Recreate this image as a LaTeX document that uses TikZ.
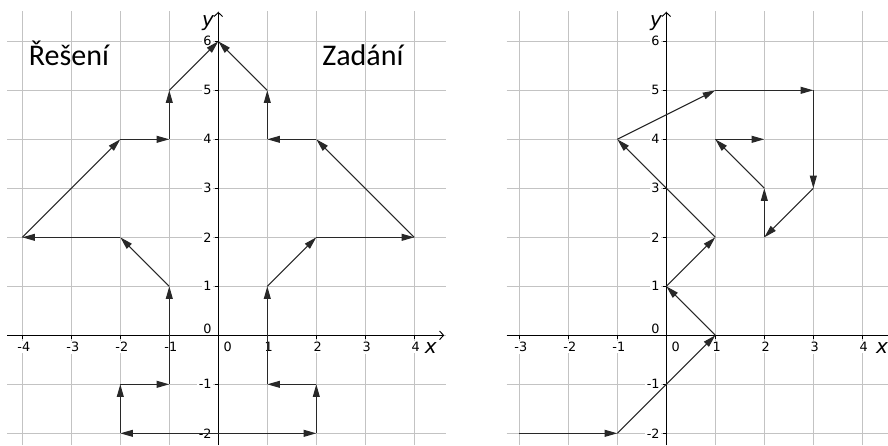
\documentclass[tikz,border=0pt]{standalone}
\usepackage{fontspec}
\setmainfont{DejaVu Sans}
\newfontfamily\headfont{Carlito}
\usetikzlibrary{arrows.meta}
\definecolor{gridc}{RGB}{195,195,195}
\definecolor{vecc}{RGB}{40,40,40}
\tikzset{
  gridline/.style={draw=gridc, line width=0.8pt},
  axisline/.style={draw=black, line width=0.9pt},
  axisarrow/.style={axisline, -{Straight Barb[length=3pt,width=6.5pt,line width=0.7pt]}},
  tickline/.style={draw=black, line width=0.7pt},
  ticklab/.style={fill=white, inner sep=1.2pt, font=\fontsize{9.6}{10}\selectfont},
  axislab/.style={inner sep=0pt, font=\fontsize{15}{16}\selectfont\itshape},
  headlab/.style={inner sep=0pt, anchor=base west, font=\fontsize{22.5}{24}\selectfont\headfont},
  vec/.style={draw=vecc, line width=0.8pt, -{Triangle[length=9.5pt,width=5.2pt]}}
}
\begin{document}
\begin{tikzpicture}[x=36.75pt,y=36.75pt]
\useasboundingbox (-4.455,-2.239) rectangle (13.667,6.843);
% ================= LEFT GRAPH =================
\begin{scope}
  \foreach \x in {-4,...,4} \draw[gridline] (\x,-2.239) -- (\x,6.62);
  \foreach \y in {-2,...,6} \draw[gridline] (-4.31,\y) -- (4.65,\y);
  \foreach \x in {-4,-3,-2,-1,1,2,3,4} \node[ticklab] (lx\x) at (\x+0.03,-0.24) {\x};
  \foreach \y in {-2,-1,1,2,3,4,5,6} \node[ticklab, anchor=east] (ly\y) at (-0.1,\y) {\y};
  \node[ticklab] (lx0) at (0.19,-0.24) {0};
  \node[ticklab, fill=none] (ly0) at (-0.22,0.13) {0};
  \foreach \x in {-4,...,4} \draw[tickline] (\x,0) -- (\x,-0.07);
  \foreach \y in {-2,...,6} \draw[tickline] (-0.07,\y) -- (0,\y);
  \coordinate (lxs) at (-4.31,0); \coordinate (lxe) at (4.61,0);
  \coordinate (lys) at (0,-2.239); \coordinate (lye) at (0,6.6);
  \draw[axisarrow] (lxs) -- (lxe);
  \draw[axisarrow] (lys) -- (lye);
  \node[axislab] (lxl) at (4.336,-0.26) {x};
  \node[axislab] (lyl) at (-0.21,6.37) {y};
  \node[headlab] (hres) at (-3.87,5.516) {Řešení};
  \node[headlab] (hzad) at (2.12,5.516) {Zadání};
  % points
  \coordinate (A) at (1,-1);  \coordinate (B) at (1,1);  \coordinate (C) at (2,2);
  \coordinate (D) at (4,2);   \coordinate (E) at (2,4);  \coordinate (F) at (1,4);
  \coordinate (G) at (1,5);   \coordinate (T) at (0,6);
  \coordinate (H) at (2,-1);  \coordinate (I) at (2,-2); \coordinate (O) at (0,-2);
  \coordinate (Am) at (-1,-1); \coordinate (Bm) at (-1,1); \coordinate (Cm) at (-2,2);
  \coordinate (Dm) at (-4,2);  \coordinate (Em) at (-2,4); \coordinate (Fm) at (-1,4);
  \coordinate (Gm) at (-1,5);  \coordinate (Hm) at (-2,-1); \coordinate (Im) at (-2,-2);
  % right half (Zadani)
  \draw[vec] (A) -- (B);
  \draw[vec] (B) -- (C);
  \draw[vec] (C) -- (D);
  \draw[vec] (D) -- (E);
  \draw[vec] (E) -- (F);
  \draw[vec] (F) -- (G);
  \draw[vec] (G) -- (T);
  \draw[vec] (H) -- (A);
  \draw[vec] (I) -- (H);
  \draw[vec] (O) -- (I);
  % left half (Reseni)
  \draw[vec] (O) -- (Im);
  \draw[vec] (Im) -- (Hm);
  \draw[vec] (Hm) -- (Am);
  \draw[vec] (Am) -- (Bm);
  \draw[vec] (Bm) -- (Cm);
  \draw[vec] (Cm) -- (Dm);
  \draw[vec] (Dm) -- (Em);
  \draw[vec] (Em) -- (Fm);
  \draw[vec] (Fm) -- (Gm);
  \draw[vec] (Gm) -- (T);
\end{scope}
% ================= RIGHT GRAPH =================
\begin{scope}[shift={(9.143,0)}]
  \foreach \x in {-3,...,4} \draw[gridline] (\x,-2.239) -- (\x,6.62);
  \foreach \y in {-2,...,6} \draw[gridline] (-3.26,\y) -- (4.53,\y);
  \foreach \x in {-3,-2,-1,1,2,3,4} \node[ticklab] (rx\x) at (\x+0.03,-0.24) {\x};
  \foreach \y in {-2,-1,1,2,3,4,5,6} \node[ticklab, anchor=east] (ry\y) at (-0.1,\y) {\y};
  \node[ticklab] (rx0) at (0.19,-0.24) {0};
  \node[ticklab, fill=none] (ry0) at (-0.22,0.13) {0};
  \foreach \x in {-3,...,4} \draw[tickline] (\x,0) -- (\x,-0.07);
  \foreach \y in {-2,...,6} \draw[tickline] (-0.07,\y) -- (0,\y);
  \coordinate (rxs) at (-3.26,0); \coordinate (rxe) at (4.53,0);
  \coordinate (rys) at (0,-2.239); \coordinate (rye) at (0,6.6);
  \draw[axisline] (rxs) -- (rxe);
  \draw[axisarrow] (rys) -- (rye);
  \node[axislab] (rxl) at (4.40,-0.26) {x};
  \node[axislab] (ryl) at (-0.21,6.37) {y};
  \coordinate (P1) at (-3,-2); \coordinate (P2) at (-1,-2); \coordinate (P3) at (1,0);
  \coordinate (P4) at (0,1);   \coordinate (P5) at (1,2);   \coordinate (P6) at (-1,4);
  \coordinate (P7) at (1,5);   \coordinate (P8) at (3,5);   \coordinate (P9) at (3,3);
  \coordinate (P10) at (2,2);  \coordinate (P11) at (2,3);  \coordinate (P12) at (1,4);
  \coordinate (P13) at (2,4);
  \draw[vec] (P1) -- (P2);
  \draw[vec] (P2) -- (P3);
  \draw[vec] (P3) -- (P4);
  \draw[vec] (P4) -- (P5);
  \draw[vec] (P5) -- (P6);
  \draw[vec] (P6) -- (P7);
  \draw[vec] (P7) -- (P8);
  \draw[vec] (P8) -- (P9);
  \draw[vec] (P9) -- (P10);
  \draw[vec] (P10) -- (P11);
  \draw[vec] (P11) -- (P12);
  \draw[vec] (P12) -- (P13);
\end{scope}
\end{tikzpicture}
\end{document}
